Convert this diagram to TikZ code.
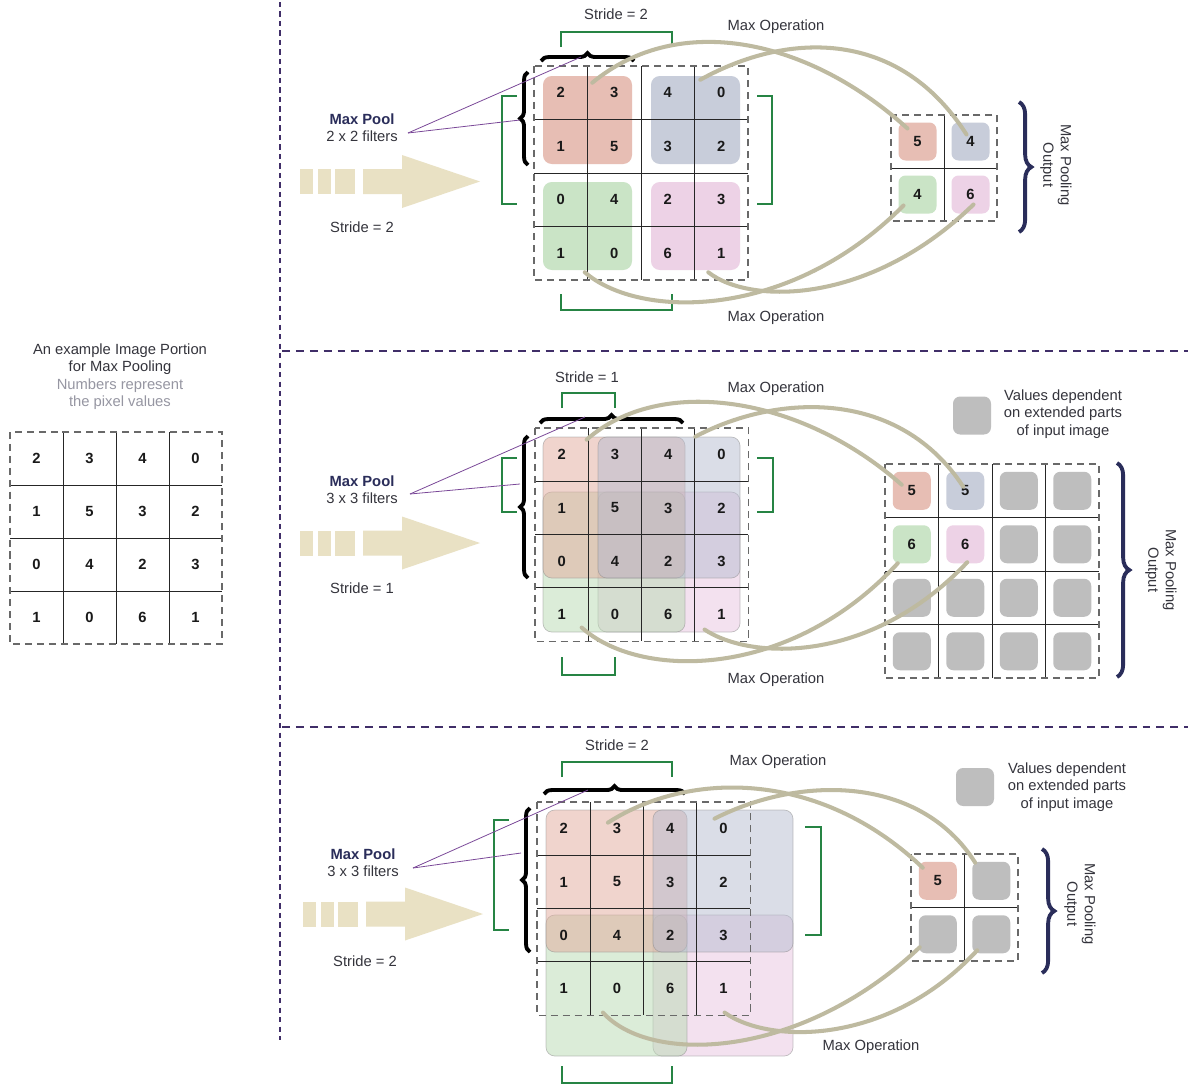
\documentclass[tikz,border=0pt]{standalone}
\usepackage{fontspec}
\setmainfont{Liberation Sans}
\usetikzlibrary{decorations.pathreplacing,calc}

\definecolor{sepc}{RGB}{64,46,104}
\definecolor{txtc}{RGB}{52,52,60}
\definecolor{subc}{RGB}{150,150,162}
\definecolor{navyc}{RGB}{42,45,90}
\definecolor{gridc}{RGB}{105,105,105}
\definecolor{cR}{RGB}{231,190,180}
\definecolor{cB}{RGB}{200,205,218}
\definecolor{cG}{RGB}{202,228,198}
\definecolor{cP}{RGB}{237,210,230}
\definecolor{sR}{RGB}{226,170,156}
\definecolor{sB}{RGB}{182,188,208}
\definecolor{sG}{RGB}{184,218,178}
\definecolor{sP}{RGB}{232,196,224}
\definecolor{cGray}{RGB}{190,190,190}
\definecolor{strideg}{RGB}{38,132,68}
\definecolor{curvec}{RGB}{190,186,160}
\definecolor{arrowc}{RGB}{233,225,196}
\definecolor{linkc}{RGB}{122,72,152}

\tikzset{
  txt/.style={font=\fontsize{8.4}{10}\selectfont, text=txtc, inner sep=0pt, align=center},
  subtxt/.style={txt, text=subc},
  pooltxt/.style={font=\bfseries\fontsize{8.4}{10}\selectfont, text=navyc, inner sep=0pt},
  num/.style={font=\bfseries\fontsize{8.4}{10}\selectfont, text=black!90, inner sep=0pt},
  sepline/.style={draw=sepc, line width=1.3pt, dash pattern=on 4.5pt off 3.4pt},
  sepvline/.style={draw=sepc, line width=1.3pt, dash pattern=on 3pt off 2.4pt},
  outerdash/.style={draw=gridc, line width=0.6pt, dash pattern=on 4pt off 2.8pt},
  innerline/.style={draw=black!85, line width=0.5pt},
  bracket/.style={draw=strideg, line width=1.6pt},
  curly/.style={decorate, decoration={brace, amplitude=4.5pt}, draw=black, line width=2.2pt},
  outbrace/.style={decorate, decoration={brace, amplitude=7pt}, draw=navyc, line width=2.2pt},
  link/.style={draw=linkc, line width=0.45pt},
  maxop/.style={draw=curvec, line width=2.3pt, line cap=round},
  patch/.style={rounded corners=5pt},
  softpatch/.style={rounded corners=5pt, fill opacity=0.5, draw=black!45, draw opacity=0.5, line width=0.4pt},
  obox/.style={rounded corners=4pt, minimum width=0.76cm, minimum height=0.76cm, inner sep=0pt,
               font=\bfseries\fontsize{8.4}{10}\selectfont, text=black!90},
}

% n x n grid: solid inner lines, dashed outer frame
% #1 x0, #2 y0, #3 n, #4 cell size
\newcommand\cellgrid[4]{%
  \pgfmathtruncatemacro\gridlast{#3-1}%
  \foreach \i in {1,...,\gridlast}{%
    \draw[innerline] ({#1+\i*#4},#2) -- ({#1+\i*#4},{#2+#3*#4});
    \draw[innerline] (#1,{#2+\i*#4}) -- ({#1+#3*#4},{#2+\i*#4});
  }%
  \draw[outerdash] (#1,#2) rectangle ({#1+#3*#4},{#2+#3*#4});
}

% the 4 x 4 pixel values, nodes named <prefix>-<row>-<col>
\newcommand\pixelvalues[4]{%
  \foreach \rowvals [count=\rowi from 0] in {{2,3,4,0},{1,5,3,2},{0,4,2,3},{1,0,6,1}}{%
    \foreach \v [count=\coli from 0] in \rowvals{%
      \node[num] (#1-\rowi-\coli) at ({#2+(\coli+0.5)*#4},{#3+(\rowi+0.5)*#4}) {\v};
    }%
  }%
}

% dashed beige flow arrow; #1 x shift, #2 centre line
\newcommand\flowarrow[2]{%
  \begin{scope}[shift={(#1,#2)}]
    \fill[arrowc] (300,-12.5) rectangle (313,12.5);
    \fill[arrowc] (318,-12.5) rectangle (331,12.5);
    \fill[arrowc] (335,-12.5) rectangle (355,12.5);
    \fill[arrowc] (363,-12.5) -- (402,-12.5) -- (402,-26.5) -- (480,0)
                  -- (402,26.5) -- (402,12.5) -- (363,12.5) -- cycle;
  \end{scope}
}

\begin{document}
\begin{tikzpicture}[x=0.02cm, y=-0.02cm]
\useasboundingbox (0,0) rectangle (1188,1086);
\fill[white] (0,0) rectangle (1188,1086);

% section separators
\draw[sepvline] (280,2) -- (280,1040);
\draw[sepline] (282,351) -- (1188,351);
\draw[sepline] (282,727) -- (1188,727);

% ---------------- input image ----------------
\node[txt] (intro1) at (120,351) {An example Image Portion};
\node[txt] (intro2) at (120,368) {for Max Pooling};
\node[subtxt] (intro3) at (120,386) {Numbers represent};
\node[subtxt] (intro4) at (120,403) {the pixel values};
\cellgrid{10}{432}{4}{53}
\pixelvalues{L}{10}{432}{53}

% ---------------- 2 x 2, stride 2 ----------------
\flowarrow{0}{181.5}
\node[pooltxt] (T-pool) at (362,119) {Max Pool};
\node[txt] (T-filt) at (362,136) {2 x 2 filters};
\node[txt] (T-strl) at (362,227) {Stride = 2};
\node[txt] (T-strt) at (616,14) {Stride = 2};
\node[txt] (T-opt) at (776,27) {Max Operation};
\node[txt] (T-opb) at (776,318) {Max Operation};

\fill[patch, cR] (543,76) rectangle (632,164);
\fill[patch, cB] (651,76) rectangle (740,164);
\fill[patch, cG] (543,182) rectangle (632,270);
\fill[patch, cP] (651,182) rectangle (740,270);
\cellgrid{534}{66}{4}{53.5}
\pixelvalues{T}{534}{66}{53.5}

\draw[bracket] (561,47) -- (561,32) -- (672,32) -- (672,47);
\draw[bracket] (561,294) -- (561,310) -- (672,310) -- (672,294);
\draw[bracket] (517,96) -- (502,96) -- (502,204) -- (517,204);
\draw[bracket] (757,96) -- (772,96) -- (772,204) -- (757,204);

\draw[curly] (541,61) -- (634,61);
\draw[curly] (528,165) -- (528,72);
\coordinate (T-lk) at (408,133);
\coordinate (T-tipt) at (581,57);
\coordinate (T-tipl) at (520,120);
\draw[link] (T-lk) -- (T-tipt);
\draw[link] (T-lk) -- (T-tipl);

\cellgrid{891}{115}{2}{53}
\node[obox, fill=cR] (TO-00) at (917.5,141.5) {5};
\node[obox, fill=cB] (TO-01) at (970.5,141.5) {4};
\node[obox, fill=cG] (TO-10) at (917.5,194.5) {4};
\node[obox, fill=cP] (TO-11) at (970.5,194.5) {6};
\draw[outbrace] (1019,102) -- (1019,232);
\node[txt, rotate=-90] (T-outl) at (1056,165) {Max Pooling\\Output};

\draw[maxop] ($(T-0-1)+(-22,-10)$) .. controls (680,10) and (810,40) .. ($(TO-00)+(-10,-13)$);
\draw[maxop] ($(T-0-3)+(-21,-13)$) .. controls (790,30) and (900,30) .. ($(TO-01)+(-4,-7)$);
\draw[maxop] ($(T-3-0)+(24,19)$) .. controls (640,320) and (790,320) .. ($(TO-10)+(-14,11)$);
\draw[maxop] ($(T-3-3)+(-13,19)$) .. controls (750,305) and (870,305) .. ($(TO-11)+(3,10)$);

% ---------------- 3 x 3, stride 1 ----------------
\flowarrow{0}{543}
\node[pooltxt] (M-pool) at (362,481) {Max Pool};
\node[txt] (M-filt) at (362,498) {3 x 3 filters};
\node[txt] (M-strl) at (362,588) {Stride = 1};
\node[txt] (M-strt) at (587,377) {Stride = 1};
\node[txt] (M-opt) at (776,389) {Max Operation};
\node[txt] (M-opb) at (776,680) {Max Operation};

% lower windows first, upper windows over them
\filldraw[softpatch, fill=sP] (598,492) rectangle (740,632);
\filldraw[softpatch, fill=sG] (543,492) rectangle (685,632);
\filldraw[softpatch, fill=sR] (543,437) rectangle (685,578);
\filldraw[softpatch, fill=sB] (598,437) rectangle (740,578);
\cellgrid{535}{428}{4}{53.3}
\pixelvalues{M}{535}{428}{53.3}

\draw[bracket] (562,408) -- (562,393) -- (615,393) -- (615,408);
\draw[bracket] (562,657) -- (562,675) -- (615,675) -- (615,657);
\draw[bracket] (517,458) -- (502,458) -- (502,512) -- (517,512);
\draw[bracket] (757,458) -- (773,458) -- (773,512) -- (757,512);

\draw[curly] (540,423) -- (683,423);
\draw[curly] (528,578) -- (528,436);
\coordinate (M-lk) at (410,494);
\coordinate (M-tipt) at (585,417);
\coordinate (M-tipl) at (520,484);
\draw[link] (M-lk) -- (M-tipt);
\draw[link] (M-lk) -- (M-tipl);

\node[obox, fill=cGray] (M-key) at (972,415.5) {};
\node[txt] (M-keytxt) at (1063,414) {Values dependent\\on extended parts\\of input image};

\cellgrid{885}{464}{4}{53.5}
\foreach \rr/\cc in {0/2,0/3,1/2,1/3,2/0,2/1,2/2,2/3,3/0,3/1,3/2,3/3}{
  \node[obox, fill=cGray] (MO-\rr\cc) at ({885+(\cc+0.5)*53.5},{464+(\rr+0.5)*53.5}) {};
}
\node[obox, fill=cR] (MO-00) at (911.75,490.75) {5};
\node[obox, fill=cB] (MO-01) at (965.25,490.75) {5};
\node[obox, fill=cG] (MO-10) at (911.75,544.25) {6};
\node[obox, fill=cP] (MO-11) at (965.25,544.25) {6};
\draw[outbrace] (1117,463) -- (1117,677);
\node[txt, rotate=-90] (M-outl) at (1161,570) {Max Pooling\\Output};

\draw[maxop] ($(M-0-0)+(25,-15)$) .. controls (660,375) and (800,395) .. ($(MO-00)+(-10,-6)$);
\draw[maxop] ($(M-0-2)+(27,-18)$) .. controls (780,392) and (900,390) .. ($(MO-01)+(-2,-4)$);
\draw[maxop] ($(M-3-0)+(20,13)$) .. controls (640,680) and (790,680) .. ($(MO-10)+(-14,19)$);
\draw[maxop] ($(M-3-3)+(-17,15)$) .. controls (750,660) and (870,665) .. ($(MO-11)+(2,18)$);

% ---------------- 3 x 3, stride 2 ----------------
\flowarrow{3}{914}
\node[pooltxt] (B-pool) at (363,854) {Max Pool};
\node[txt] (B-filt) at (363,871) {3 x 3 filters};
\node[txt] (B-strl) at (365,961) {Stride = 2};
\node[txt] (B-strt) at (617,745) {Stride = 2};
\node[txt] (B-opt) at (778,762) {Max Operation};
\node[txt] (B-opb) at (871,1047) {Max Operation};

\filldraw[softpatch, fill=sP] (653,915) rectangle (793,1056);
\filldraw[softpatch, fill=sG] (546,915) rectangle (687,1056);
\filldraw[softpatch, fill=sR] (546,810) rectangle (687,952);
\filldraw[softpatch, fill=sB] (653,810) rectangle (793,952);
\cellgrid{537}{802}{4}{53.3}
\pixelvalues{B}{537}{802}{53.3}

\draw[bracket] (562,777) -- (562,762) -- (672,762) -- (672,777);
\draw[bracket] (562,1066) -- (562,1083) -- (672,1083) -- (672,1066);
\draw[bracket] (509,820) -- (494,820) -- (494,930) -- (509,930);
\draw[bracket] (805,827) -- (821,827) -- (821,935) -- (805,935);

\draw[curly] (544,794) -- (685,794);
\draw[curly] (530,952) -- (530,808);
\coordinate (B-lk) at (413,868);
\coordinate (B-tipt) at (588,790);
\coordinate (B-tipl) at (521,853);
\draw[link] (B-lk) -- (B-tipt);
\draw[link] (B-lk) -- (B-tipl);

\node[obox, fill=cGray] (B-key) at (975,787) {};
\node[txt] (B-keytxt) at (1067,787) {Values dependent\\on extended parts\\of input image};

\cellgrid{911}{854}{2}{53.5}
\node[obox, fill=cR] (BO-00) at (937.75,880.75) {5};
\node[obox, fill=cGray] (BO-01) at (991.25,880.75) {};
\node[obox, fill=cGray] (BO-10) at (937.75,934.25) {};
\node[obox, fill=cGray] (BO-11) at (991.25,934.25) {};
\draw[outbrace] (1042,849) -- (1042,973);
\node[txt, rotate=-90] (B-outl) at (1080,904) {Max Pooling\\Output};

\draw[maxop] ($(B-0-1)+(-9,-6)$) .. controls (690,770) and (820,770) .. ($(BO-00)+(-15,-13)$);
\draw[maxop] ($(B-0-3)+(-9,-10)$) .. controls (800,775) and (920,775) .. ($(BO-01)+(-16,-18)$);
\draw[maxop] ($(B-3-1)+(-14,24)$) .. controls (650,1065) and (800,1060) .. ($(BO-10)+(-18,13)$);
\draw[maxop] ($(B-3-3)+(1,24)$) .. controls (770,1045) and (890,1045) .. ($(BO-11)+(-14,16)$);

\end{tikzpicture}
\end{document}
